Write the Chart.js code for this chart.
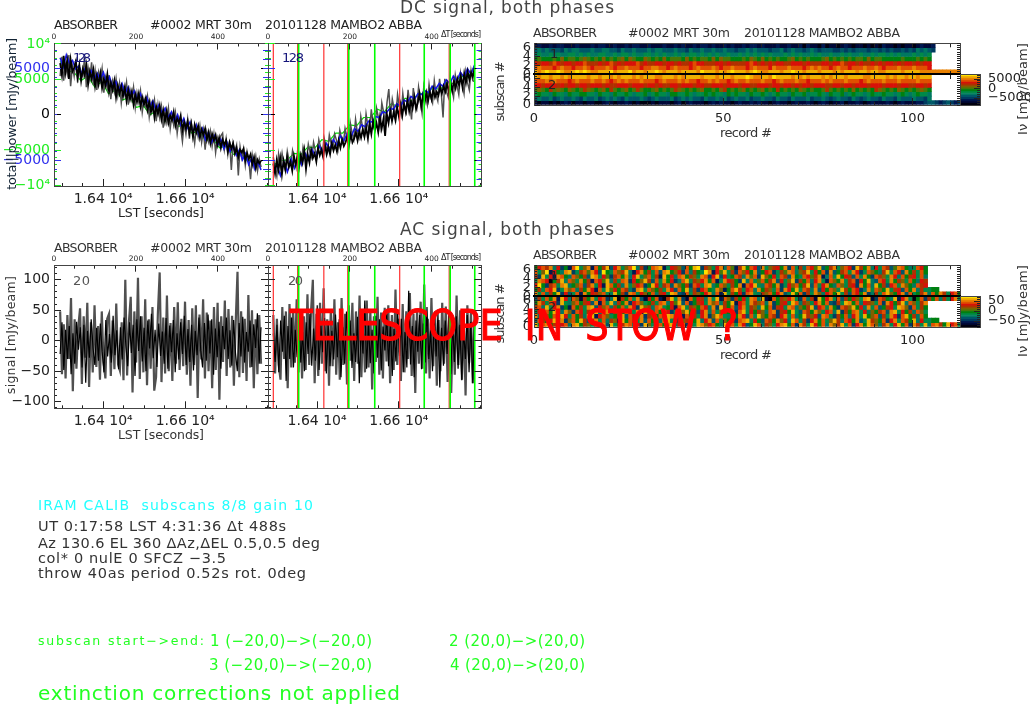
<!DOCTYPE html>
<html>
<head>
<meta charset="utf-8">
<title>ABSORBER #0002</title>
<script src="https://cdn.jsdelivr.net/npm/chart.js@4/dist/chart.umd.js"></script>
<style>
    html, body { margin: 0; padding: 0; background: #fff; overflow: hidden; }
    #page { position: relative; width: 1030px; height: 704px; overflow: hidden; }
    canvas { position: absolute; left: 0; top: 0; }
    .txt { position: absolute; white-space: pre; line-height: 1; font-family: "DejaVu Sans", sans-serif; }
</style>
</head>
<body>
<div id="page"></div>
<script>
// values, mJy/beam
const dcLeftBlack = [5600,4300,6400,4600,5900,3900,6000,4700,5100,5800,4100,5400,3700,5000,4300,5400,3300,4700,3900,4900,3100,4300,3300,4500,2900,3900,3200,4400,2500,3500,2700,3700,1900,3200,2300,3100,2000,3000,1500,2700,1700,2500,1100,2200,1400,2300,900,1900,1100,1800,500,1400,300,1200,-300,900,100,1000,-500,500,-700,400,-900,-100,-600,300,-1200,-400,-900,-100,-1700,-800,-1500,-700,-2000,-1000,-2400,-1100,-1900,-1200,-2500,-1600,-2200,-1500,-2700,-1900,-3100,-2100,-2800,-2200,-3300,-2500,-3600,-2700,-3300,-2800,-4000,-3000,-3700,-3100,-4200,-3600,-4600,-3800,-4100,-3700,-5000,-4200,-4800,-4300,-5400,-4600,-5800,-4900,-5300,-5000];
const dcLeftGrey = [4200,6300,3700,5500,4500,6500,3100,5300,4200,6000,3500,5200,4500,4200,6300,3000,5100,3900,5700,3200,4800,2700,4600,3700,5000,2400,4000,2800,4300,1700,3600,2500,3900,2100,3400,1300,3000,2200,3500,1100,2700,1700,3000,800,2400,1400,2600,300,1700,900,2000,-200,1300,500,1600,-700,1100,-300,900,-1400,300,-800,700,-1500,0,-1100,200,-2000,-500,-1400,-2900,-900,-2100,-500,-2600,-800,-1700,-3100,-1300,-2400,-1200,-3000,-1700,-3800,-1900,-2900,-1800,-3400,-2100,-4100,-2500,-3200,-2300,-2000,-3800,-2600,-4300,-2900,-6000,-3100,-4000,-3300,-6600,-3500,-4700,-3700,-5500,-4000,-4900,-7000,-4400,-5600,-4500,-6100,-4800,-5700];
const dcLeftBlue = [6200,5200,6500,5600,5900,5000,5300,4500,5000,4200,4800,3900,4500,3800,4600,3400,4100,3000,3600,2700,3400,2300,3000,2000,2600,1700,2300,1200,1900,900,1500,500,1100,100,700,-300,300,-700,0,-1100,-400,-1500,-800,-1900,-1100,-2300,-1500,-2700,-1900,-3000,-2300,-3300,-2700,-3700,-3000,-4000,-3400,-4400,-3800,-4900,-4200,-5400,-4700,-5900,-5100,-6000];
const dcLeftGreen = [5800,4800,4600,3700,4200,3000,3600,2300,2700,1600,1900,800,1000,0,500,-800,-200,-1300,-1000,-2000,-1800,-2800,-2600,-3600,-3400,-4300,-4100,-5000,-4900,-5500];
const dcMidBlack = [-5300,-6400,-4900,-6000,-4700,-6500,-5000,-5900,-4600,-5700,-5100,-6100,-4500,-5400,-4600,-5700,-4400,-5200,-3900,-5900,-4300,-5200,-3800,-4700,-4200,-5100,-3600,-4400,-3800,-4600,-3300,-4300,-3500,-4300,-3100,-3900,-3300,-4000,-2800,-3600,-2700,-3400,-3000,-2400,-3300,-2100,-3000,-2600,-1900,-2800,-1800,-2500,-1600,-2400,-1400,-2600,-1000,-2100,-700,-1700,-900,-1900,-300,-1500,-500,-2300,100,-900,400,-700,300,-600,800,-200,1100,-100,1200,300,1600,400,1500,700,1900,600,1300,2300,900,2100,1300,2400,1500,2500,1700,2800,1900,2500,2100,3000,2300,3100,2500,3400,2500,3500,2600,3700,2900,3900,3200,4200,3000,4500,3500,4700,3800,4600,4100,5100];
const dcMidGrey = [-4600,-5800,-6700,-4300,-5600,-4200,-5500,-6200,-4000,-5000,-5500,-3900,-4800,-5700,-3700,-4500,-5300,-3500,-4300,-4900,-3200,-4100,-4700,-3000,-3900,-4500,-2700,-3500,-4300,-2500,-3400,-4000,-2200,-3100,-3600,-2100,-2700,-3700,-1700,-2600,-3200,-1500,-2400,-3300,-900,-2000,-2700,-500,-1900,-2500,-200,-1400,-2300,100,-1200,-1800,600,-1100,-1700,700,-300,-1400,1300,300,-800,1400,2800,-400,1700,700,-300,2200,900,0,2300,700,200,2700,1100,-500,2900,1300,700,3000,1600,200,3100,2000,1100,3300,1900,1300,3700,2200,1500,3900,2300,-300,3900,2500,1900,4100,2900,1900,4300,3200,2200,4500,3300,2300,4700,3500,2700,4800,3700,3600];
const dcMidBlue = [-6300,-5400,-6600,-5100,-6200,-4800,-5800,-4500,-5400,-4200,-4900,-3800,-4600,-3400,-4100,-3100,-3700,-2700,-3300,-2300,-2800,-2000,-2400,-1500,-1800,-1100,-1300,-700,-800,-200,-300,300,200,700,600,1200,900,1600,1400,2000,1700,2300,2200,2600,2400,3100,2800,3400,3100,3800,3400,4200,3700,4600,4100,5000,4400,5400];
const dcMidGreen = [-5500,-5000,-4900,-4200,-4300,-3500,-3600,-2700,-2900,-2000,-2000,-1100,-1200,-300,-300,600,300,1200,900,1800,1500,2400,2100,3000,2700,3500,3400,4200,4000,5300];
const acLeftBlack = [-22,30,-48,18,-30,24,-55,12,-38,31,-15,22,-44,26,-69,16,-28,35,-12,-40,21,-33,28,-18,-52,34,-26,11,-36,41,-24,17,-47,22,-31,38,-8,-42,30,-20,26,-58,35,-17,40,-34,21,-50,33,-13,44,-29,18,-43,28,-25,15,-38,37,-46,25,-19,34,-52,12,-31,30,-22,41,-40,19,-35,26,-49,16,-24,38,-16,-44,29,-33,43,-21,35,-56,20,-27,31,-46,24,-14,38,-30,17,-41,34,-20,-50,29,-26,39,-36,14,-18,33,-43,27,-12,45,-38,22];
const acLeftGrey = [48,-55,27,-62,42,-30,70,-83,35,-46,22,53,-71,40,-28,62,-76,30,-52,58,-43,24,-64,48,-35,-62,36,44,-58,33,-47,61,-39,-49,30,-65,100,-57,31,72,-85,48,-36,103,-63,40,-52,68,-73,35,-46,55,-82,-60,45,112,-68,38,-54,74,-50,29,-66,55,-38,63,-48,36,-42,64,-56,34,-74,53,-40,58,-94,43,-31,68,-62,46,-50,33,-78,55,-48,62,-97,40,-35,66,-58,52,-44,41,-74,30,113,-60,48,-53,36,-66,75,-44,50,-78,35,-55,42,-38];
const acMidBlack = [12,-35,26,-52,33,-18,41,-66,24,-30,38,-44,18,-27,46,-36,14,-50,30,-22,44,-41,20,-33,58,-48,25,-19,37,-54,28,-42,16,-31,43,-27,35,-60,22,-38,48,-25,33,-45,12,-35,39,-70,27,-21,66,-46,30,-37,18,-54,41,-28,35,-49,23,-16,44,-42,31,-58,19,-34,47,-25,36,-52,14,-44,82,-39,24,-60,33,-18,42,-47,28,-36,55,-30,17,-50,38,-26,45,-77,21,-41,33,-22,48,-55,29,-35,40,-46,26,-65,18,-30,42,-52,31,-70,24];
const acMidGrey = [42,-54,36,-40,-64,55,-30,48,-78,60,-44,52,-36,68,-52,33,-62,40,-48,76,-40,48,100,-70,44,-58,62,-38,86,-50,35,-74,52,-42,68,-56,30,-64,70,-40,44,-72,58,-33,62,-66,48,-38,74,-60,36,-52,66,-44,50,-80,40,-35,72,-56,46,-62,54,-34,58,-70,42,-48,84,-40,36,-66,60,-52,48,-30,78,-58,44,-86,52,-38,64,-46,92,-54,36,-62,70,-42,48,-74,34,-50,62,-38,56,-68,44,-86,30,-56,74,-40,50,-64,38,-90,58,-36,48,-70,44];
const subscanStarts = [13, 136.5, 322, 72.5, 195, 443];
const subscanEnds = [75, 197.5, 261, 382, 445.5, 505.5];

// one hex digit per record, colour level of the bar on the right (0 lowest .. f highest)
const dcImageRows = [
    "1211212211 1211121221 1211212211 2111211212 1121221211 2121121221 2111211211 2021102011 0121011010 1021101011 012112",
    "4545444354 5544454455 4435445444 5455444544 3544544544 5443445454 4434453454 4345434443 3434344434 4343433434 354543",
    "5655656556 6565655665 5656656556 6565655656 5665656565 5655656565 6565556565 6556565565 5656556556 5665656555 65656",
    "7877787978 8789878797 8789798779 8787978887 9787887979 8877787987 9787877897 8787778978 7878788797 8877777877 78787",
    "babbacbabb abbcaaabab cababbbcab aabbabbaba abcbbaaabb abaaaabcba bababbaabb babaaabbab bcabbabaab ababbababb ababb",
    "cdcccbcdcc bccdcbcccd cbccdcccbc cddccbcdcc cbcdcccdcb ccdcccbcdc ccbdcccdcc cbcdcdccbc dccbcccdcc dcbcccdccc dcccb",
    "edefeefedd efefeddeee fdeeefdeed eefedeeede eeedfeeede defeeedefe ddeeedeefe edeeedeeed edeeedeede eddeeeedee eeddd dddddddd",
    "edeedeeded eeeedeedee dedeeedede eeddeeeded eeeedeeede eedeeefedd eedfeeeede dedeeedede eedeeeedde eeededeede edeee",
    "cccdcdcccb cdcccdccdc bcdcdcccdc ccbcdcccdc dccbccdcdc cbcdccdccc dccbcdcccd ccbcccdcdc ccdcccbcdc ccdcccdccc cdccc",
    "bbabbbabab babbabbbab aabbbabbba bbabaabbab bbabbaabbb abbbabbaab bbabbabbab abbabbbaab babbabbbab bbabbbabba abbab",
    "8987a89879 878a987897 a878978a87 7897878a98 7878977879 a787897878 9787a78787 9878778a87 8787978787 a987879878 78987",
    "6766576657 6677665766 5766765667 5676657766 7656676766 5767665766 7656766576 6756676576 6756766567 6676656765 67665",
    "4544534544 5435445345 4543544454 3454445345 4544354454 5345445344 5443544354 4453445434 5443543454 4354435444 54435",
    "1011010121 0110110012 1011210100 0101110120 1211101212 1101211212 1101211012 1121012101 1201121012 1112101211 12234 43234323"
];
const acImageRows = [
    "7bcad5b372 cf69d2c7ae 4bd69cf5a3 7cde26ba94 c7ef3a96bd 5c82ae7cb4 d69ab7d3c6 a5cb8e47ad 69cb3ea7d5 b6ca48dc75 6cb7",
    "c69f2b75de 36ac8db4f7 6c9ae52bd7 a6c4de79b3 c5a76fd2b8 e6a3c9b7d4 7bc36a8dc5 9ae6b7c3d4 7ac6db36c9 75ae6cb4d7 a6c7",
    "a3e6b2dc75 c97a4ed6b8 3ac7d5be69 c6a2e7b5cd 7a96dc3be4 b67ca5d8c3 e97b6ca4d7 6cb8ad25c6 e7ba4c6d73 ca96db5c7a b6c5",
    "6dcb07ae5c 96d7a2cb8e 5a6cd3b79e a4c6d7b35c e6a9bd7c26 dba73e5c68 c7ad4b69e3 a7c5bd62c9 7d6ac3b7e5 4cb6d7a96c 75ba",
    "bf73ac6de5 79c4ad6b2e c7a5d69bc3 7eb6ac4d97 a3cb6de57c 96a7d2cbe6 5ca7d36b9c 7ae4c6bd75 c96ab3d7c5 e7a4bc6d97 5cab",
    "7a6cbe36d9 c5a7db2c6e 8b7ca53de6 c97a6db4c7 e5a3bc76d9 27cea6bc5d 7a96c3db7e 6ca5d4b7c9 6ea7cb35d6 c97e6ab4c7 d5a6 677",
    "d6c5a7e3b4 6c2d7ba9c6 5e7a3dc6b9 7c5ab6ed43 c6a97bd5c2 e6a7b3cd65 a9c7bd46e7 c3a6d95bc7 e6a4cb7d35 a6ce97bd4c 67ad 5c7da6bc7",
    "4a6c7d2eb5 c91a7d6bc3 5e0a7c6d41 b7c20ae6d3 1c7ba5d6e2 c93a7b6dc5 e10c7a9bd6 3c5a1e7bd6 c4a7b96de1 3ca75e2bd6 07c3 a7c5a6bd6",
    "7da6cb3e65 9c7ab4d2c6 e5a7d3bc96 7a6cd5b8e4 c37ab6d9c5 a7e2bc6da9 c5d37ab6ec 5a96bd7c43 a6ed7c5ba9 6c3db7ae5c 96ad",
    "ac5e6bd372 c7a6de4b9c 5a7c6db3e9 a5cd67b2ce 6a97cb5d3e a7c4bd6a95 e7c3ab6dc5 97ae4bc6d7 3ca9e7b5d6 c47ab6ed93 c6a7",
    "6b2c7ea5d9 3cb6a7e5cd 4a97cb6d2e a5c7db36c9 e7a4bd5c69 a7d3ce6b7a 95cd3ab7e6 4ca7d96bc5 e3a7cd6b59 7ac4de6b7a 5c96",
    "d5a97c3eb6 c7a5de2bc9 67ae4cb6d3 a97c5ed6b2 c7a6bd39ec 65a7db4c6e 97ca3bd6c5 7ea9b4dc63 a7c5bd6e79 c4a6db3ce7 a5c7",
    "5ca7be6d39 c7ea4bd6c5 a92e7cb6d4 c7a5de63b9 ac7e5bd4c6 97a3cde6b7 4ca7d9b5ec 6a3bd7c69e a5cb7d46ea 97c3bd6ca7 e5b6 677",
    "e6cd7a3bc5 de7a96bcd4 e67adc5b3e 96ac7de5bc 3a6ed9bc75 eac6db47ec 5a96bde7c3 da6eb7c5d9 ae6c3bd7ec 95ad6be7c3 da6e 5cda7ebc6"
];
const dcBarEdges = [-8680,-7670,-6660,-5650,-4640,-3630,-2620,-1610,-600,410,1420,2430,3440,4450,5460,6470,7480];
const acBarEdges = [-80,-70.4,-60.8,-51.2,-41.6,-32,-22.4,-12.8,-3.2,6.4,16,25.6,35.2,44.8,54.4,64,73.6];
const palette = ["#000010","#000838","#001850","#003c60","#005868","#007860","#008a48","#008010","#487808","#806000","#b03000","#d81008","#e05000","#e88000","#f0b000","#ffe000"];

// text: string, x, y, size, colour, fitted width, rotated, squeezed
const pageTexts = [
    ["DC signal, both phases", 400, 7, 17, "#444", 214],
    ["AC signal, both phases", 400, 229, 17, "#444", 214],
    ["ABSORBER", 54, 25, 12.5, "#222", 64], ["#0002 MRT 30m", 150, 25, 12.5, "#222", 102], ["20101128 MAMBO2 ABBA", 265, 25, 12.5, "#222", 157],
    ["ABSORBER", 54, 248, 12.5, "#333", 64], ["#0002 MRT 30m", 150, 248, 12.5, "#333", 102], ["20101128 MAMBO2 ABBA", 265, 248, 12.5, "#333", 157],
    ["ABSORBER", 533, 33, 12.5, "#333", 64], ["#0002 MRT 30m", 628, 33, 12.5, "#333", 102], ["20101128 MAMBO2 ABBA", 744, 33, 12.5, "#333", 156],
    ["ABSORBER", 533, 255, 12.5, "#333", 64], ["#0002 MRT 30m", 628, 255, 12.5, "#333", 102], ["20101128 MAMBO2 ABBA", 744, 255, 12.5, "#333", 156],
    ["ΔT [seconds]", 441, 35, 8, "#222", 40], ["ΔT [seconds]", 441, 258, 8, "#222", 40],
    ["128", 73, 57, 13, "#14147a", 18], ["128", 282, 57, 13, "#14147a", 22],
    ["20", 73, 280, 13, "#555", 17], ["20", 288, 280, 13, "#555", 15],
    ["LST [seconds]", 118, 213, 12.5, "#222", 86], ["LST [seconds]", 118, 435, 12.5, "#333", 86],
    ["total||power [mJy/beam]", 11, 114, 13, "#123", 152, true],
    ["signal [mJy/beam]", 11, 335, 12.5, "#333", 118, true],
    ["subscan #", 499, 92, 13, "#333", 60, true], ["subscan #", 499, 314, 13, "#333", 60, true],
    ["record #", 720, 132, 13, "#333", 52], ["record #", 720, 354, 13, "#333", 52],
    ["1", 550, 53, 13, "#222", 6], ["2", 548, 84, 13, "#222", 8],
    ["1", 550, 275, 13, "#222", 6], ["2", 548, 306, 13, "#222", 8],
    ["Iν [mJy/beam]", 1022, 89, 13, "#333", 92, true], ["Iν [mJy/beam]", 1022, 311, 13, "#333", 92, true],
    ["IRAM CALIB  subscans 8/8 gain 10", 38, 505, 14, "#22ffff", 275],
    ["UT 0:17:58 LST 4:31:36 Δt 488s", 38, 526, 14.5, "#333", 248],
    ["Az 130.6 EL 360 ΔAz,ΔEL 0.5,0.5 deg", 38, 543, 14.5, "#333", 282],
    ["col* 0 nulE 0 SFCZ −3.5", 38, 558, 14.5, "#333", 188],
    ["throw 40as period 0.52s rot. 0deg", 38, 573, 14.5, "#333", 268],
    ["subscan start−>end:", 38, 641, 12.5, "#22ff22", 166],
    ["1 (−20,0)−>(−20,0)", 210, 641, 15, "#22ff22", 162], ["2 (20,0)−>(20,0)", 449, 641, 15, "#22ff22", 136],
    ["3 (−20,0)−>(−20,0)", 209, 665, 15, "#22ff22", 163], ["4 (20,0)−>(20,0)", 450, 665, 15, "#22ff22", 135],
    ["extinction corrections not applied", 38, 693, 20, "#22ff22", 362],
    ["TELESCOPE IN STOW ?", 290, 326, 42, "#ff0000", 448, false, true]
];

const W = 1030, H = 704;
const page = document.getElementById('page');
const fontFamily = '"DejaVu Sans", sans-serif';
Chart.defaults.font.family = fontFamily;

function range(from, to, step) {
    const out = [];
    for (let v = from; v <= to + 1e-6; v += step) out.push(v);
    return out;
}

// IDL style axis: ticks point into the plot, box is sized by the layout padding
function axis(position, min, max, values, len, color, label, size, gap) {
    return {
        type: 'linear', position: position, min: min, max: max, bounds: 'data', offset: false,
        border: { display: true, color: '#444', width: 1, z: 1 },
        grid: { display: true, offset: false, drawOnChartArea: false, drawTicks: true, tickLength: -len, tickColor: color, tickWidth: 1, z: 1 },
        ticks: {
            display: !!label, autoSkip: false, maxRotation: 0, minRotation: 0, padding: len + (gap === undefined ? 4 : gap),
            color: color, font: { family: fontFamily, size: size || 13 }, callback: label || (() => ''), z: 2
        },
        afterBuildTicks: a => { a.ticks = values.map(v => ({ value: v })); },
        afterFit: a => {
            if (a.isHorizontal()) a.height = 0; else a.width = 0;
            a.paddingLeft = a.paddingRight = a.paddingTop = a.paddingBottom = 0;
            // box has no size here, the labels must not be clipped to it
            a._computeLabelArea = () => null;
        }
    };
}

function panel(type, box, datasets, scales) {
    const canvas = document.createElement('canvas');
    canvas.width = W;
    canvas.height = H;
    canvas.style.width = W + 'px';
    canvas.style.height = H + 'px';
    page.appendChild(canvas);
    return new Chart(canvas.getContext('2d'), {
        type: type,
        data: { datasets: datasets },
        options: {
            responsive: false, animation: false, devicePixelRatio: 1,
            layout: { padding: { left: box[0], top: box[1], right: W - box[2], bottom: H - box[3] } },
            plugins: { legend: { display: false }, tooltip: { enabled: false } },
            scales: scales
        }
    });
}

function trace(values, from, to, color, width, order) {
    return {
        data: values.map((v, i) => ({ x: from + (to - from) * i / (values.length - 1), y: v })),
        borderColor: color, borderWidth: width, pointRadius: 0, tension: 0, order: order
    };
}

function markers(values, color, width, min, max) {
    return values.map(v => ({
        data: [{ x: v, y: min }, { x: v, y: max }],
        borderColor: color, borderWidth: width, pointRadius: 0, order: 0
    }));
}

const lstMin = 16280, lstMax = 16802, dtMax = 522;

function timeScales() {
    return {
        x: axis('bottom', 0, dtMax, [], 0, '#222'),
        xLst: axis('bottom', lstMin, lstMax, [16400, 16600], 7, '#222', v => v === 16400 ? '1.64 10⁴' : '1.66 10⁴', 14, 5),
        xLstMinor: axis('bottom', lstMin, lstMax, range(16300, 16800, 50), 3, '#222'),
        xTop: axis('top', 0, dtMax, [0, 200, 400], 6, '#222', v => String(v), 7.5, 2),
        xTopMinor: axis('top', 0, dtMax, range(50, 500, 50), 3, '#222')
    };
}

// DC signal panels: three overlaid y scales for the three phases
function dcPanel(box, series, withLabels) {
    const scales = timeScales();
    const yMax = 7745, gMax = 10070;
    scales.y = axis('left', -yMax, yMax, [0], 7, '#000', withLabels ? (() => '0') : null, 14);
    scales.yGreen = axis('left', -gMax, gMax, [-10000, -5000, 5000, 10000], 7, '#22ee22',
        withLabels ? (v => Math.abs(v) === 10000 ? (v < 0 ? '−10⁴' : '10⁴') : (v < 0 ? '−5000' : '5000')) : null, 14);
    scales.yGreenMinor = axis('left', -gMax, gMax, range(-10000, 10000, 1000), 3, '#22ee22');
    scales.yBlue = axis('left', -yMax, yMax, [-5000, 5000], 7, '#3030ee', withLabels ? (v => v < 0 ? '−5000' : '5000') : null, 14);
    scales.yBlueMinor = axis('left', -yMax, yMax, range(-7000, 7000, 1000), 3, '#3030ee');
    scales.yRight = axis('right', -yMax, yMax, [-5000, 0, 5000], 7, '#000');
    scales.yRightGreen = axis('right', -gMax, gMax, range(-10000, 10000, 1000), 3, '#22ee22');
    scales.yRightBlue = axis('right', -yMax, yMax, range(-7000, 7000, 1000), 5, '#3030ee');
    return panel('line', box, series, scales);
}

function acPanel(box, series, withLabels) {
    const scales = timeScales();
    const yMin = -111, yMax = 123;
    scales.y = axis('left', yMin, yMax, [-100, -50, 0, 50, 100], 7, '#222',
        withLabels ? (v => v < 0 ? '−' + (-v) : String(v)) : null, 14);
    scales.yMinor = axis('left', yMin, yMax, range(-110, 120, 10), 3, '#222');
    scales.yRight = axis('right', yMin, yMax, [-100, -50, 0, 50, 100], 7, '#222');
    scales.yRightMinor = axis('right', yMin, yMax, range(-110, 120, 10), 3, '#222');
    return panel('line', box, series, scales);
}

function imagePanel(box, rows) {
    const xMax = 112.55, rowCount = rows.length;
    const datasets = rows.map((row, r) => {
        const cells = row.replace(/ /g, '').split('');
        const y = rowCount - 1 - r;
        return {
            data: cells.map((c, i) => ({ x: i + 0.5, y: [y, y + 1] })),
            backgroundColor: cells.map(c => palette[parseInt(c, 16)]),
            grouped: false, barPercentage: 1, categoryPercentage: 1, borderWidth: 0
        };
    });
    const yLabel = v => String(v < 7 ? v : v - 7);
    const scales = {
        x: axis('bottom', 0, xMax, [0, 50, 100], 7, '#222', v => String(v), 13, 6),
        xMinor: axis('bottom', 0, xMax, range(0, 110, 10), 3, '#222'),
        xTop: axis('top', 0, xMax, range(0, 110, 10), 4, '#222'),
        y: axis('left', 0, 14, [0, 2, 4, 6, 7, 9, 11, 13], 6, '#222', yLabel, 13, 3),
        yMinor: axis('left', 0, 14, range(0, 14, 0.5), 3, '#222'),
        yRight: axis('right', 0, 14, range(0, 14, 0.5), 3, '#222')
    };
    // middle axis between the two halves
    scales.xMid = axis({ y: 7 }, 0, xMax, range(0, 110, 10), -4, '#222');
    scales.xMid.border.color = '#000';
    scales.xMid.border.width = 2;
    scales.xMidUp = axis({ y: 7 }, 0, xMax, range(0, 110, 10), 4, '#222');
    scales.xMidUp.border.color = '#000';
    scales.xMidUp.border.width = 2;
    return panel('bar', box, datasets, scales);
}

function colorBar(box, edges, ticks, minorTicks, label) {
    const datasets = palette.map((c, i) => ({
        data: [{ x: 0.5, y: [edges[i], edges[i + 1]] }],
        backgroundColor: c, grouped: false, barPercentage: 1, categoryPercentage: 1, borderWidth: 0
    }));
    return panel('bar', box, datasets, {
        x: axis('bottom', 0, 1, [], 0, '#222'),
        xTop: axis('top', 0, 1, [], 0, '#222'),
        y: axis('right', edges[0], edges[16], ticks, 6, '#222', label, 13, 8),
        yMinor: axis('right', edges[0], edges[16], minorTicks, 3, '#222'),
        yLeft: axis('left', edges[0], edges[16], [], 0, '#222')
    });
}

const dcY = 7745, acTop = 123, acBottom = -111;

dcPanel([54, 43.5, 268, 186], [
    trace(dcLeftGreen, 15, 505, '#00e000', 1.2, 5),
    trace(dcLeftGrey, 15, 505, '#505050', 1.5, 4),
    trace(dcLeftBlue, 15, 505, '#1818e8', 1.6, 3),
    trace(dcLeftBlack, 15, 505, '#000', 1.8, 2)
], true);

dcPanel([268, 43.5, 481.5, 186], [
    ...markers(subscanEnds, '#00ff00', 1.6, -dcY, dcY),
    ...markers(subscanStarts, '#ff3030', 1.2, -dcY, dcY),
    trace(dcMidGreen, 13, 505, '#00e000', 1.2, 5),
    trace(dcMidGrey, 13, 505, '#505050', 1.5, 4),
    trace(dcMidBlue, 13, 505, '#1818e8', 1.6, 3),
    trace(dcMidBlack, 13, 505, '#000', 1.8, 2)
], false);

acPanel([54, 265.7, 268, 408.3], [
    trace(acLeftGrey, 15, 505, '#505050', 2.2, 3),
    trace(acLeftBlack, 15, 505, '#000', 1.2, 2)
], true);

acPanel([268, 265.7, 481.5, 408.3], [
    ...markers(subscanEnds, '#00ff00', 1.6, acBottom, acTop),
    ...markers(subscanStarts, '#ff3030', 1.2, acBottom, acTop),
    trace(acMidGrey, 13, 505, '#505050', 2.2, 3),
    trace(acMidBlack, 13, 505, '#000', 1.2, 2)
], false);

imagePanel([534, 43.3, 960, 105], dcImageRows);
imagePanel([534, 265.3, 960, 327], acImageRows);
colorBar([960, 74.3, 980, 105], dcBarEdges, [-5000, 0, 5000], range(-8000, 7000, 1000), v => v < 0 ? '−5000' : String(v));
colorBar([960, 296.3, 980, 327], acBarEdges, [-50, 0, 50], range(-80, 70, 10), v => v < 0 ? '−50' : String(v));

// real text on top of the plots, spaced out to the measured width
const ruler = document.createElement('canvas').getContext('2d');
pageTexts.forEach(t => {
    const [text, x, y, size, color, width, rotated, squeezed] = t;
    const div = document.createElement('div');
    div.className = 'txt';
    div.textContent = text;
    div.style.fontSize = size + 'px';
    div.style.color = color;
    ruler.font = size + 'px ' + fontFamily;
    const natural = ruler.measureText(text).width;
    div.style.left = x + 'px';
    div.style.top = y + 'px';
    if (squeezed) {
        const wordGap = 12;
        div.style.wordSpacing = wordGap + 'px';
        div.style.webkitTextStroke = '1.2px ' + color;
        div.style.transformOrigin = 'left center';
        div.style.transform = 'translateY(-50%) scaleX(' + (width / (natural + 3 * wordGap)).toFixed(3) + ')';
    } else {
        div.style.letterSpacing = ((width - natural) / Math.max(text.length - 1, 1)).toFixed(3) + 'px';
        div.style.transform = rotated ? 'translate(-50%,-50%) rotate(-90deg)' : 'translateY(-50%)';
    }
    page.appendChild(div);
});
</script>
</body>
</html>
